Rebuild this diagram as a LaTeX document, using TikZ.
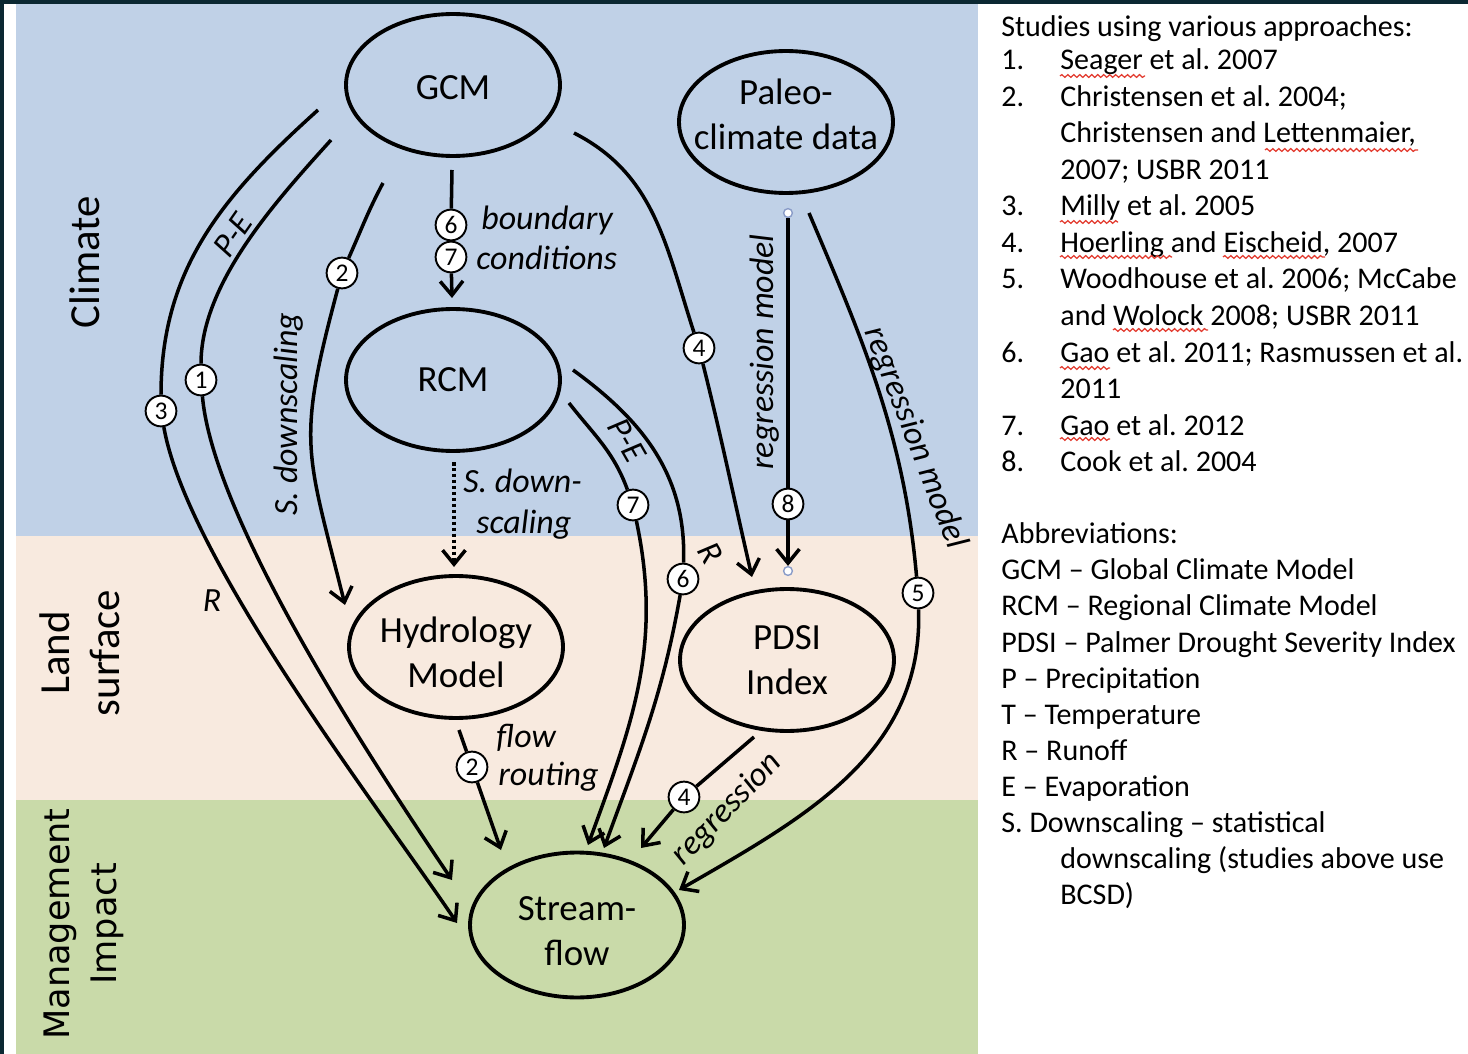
\documentclass[tikz,border=0pt]{standalone}
\usepackage{fontspec}
\setmainfont{Carlito}
\newfontfamily\mgmtfont{DejaVu Sans}
\usetikzlibrary{arrows.meta}
\usetikzlibrary{shapes.geometric}
\usetikzlibrary{decorations.pathmorphing}
\frenchspacing

\definecolor{climateblue}{HTML}{C0D1E7}
\definecolor{landpeach}{HTML}{F8EADF}
\definecolor{mgmtgreen}{HTML}{C9DAA9}
\definecolor{darkframe}{HTML}{0B2832}
\definecolor{handleblue}{HTML}{8A9CC8}
\definecolor{spellred}{HTML}{E23A2E}

\begin{document}
\begin{tikzpicture}[x=0.02cm,y=-0.02cm]
      \tikzset{
        >={Straight Barb[length=8pt,width=13pt]},
        blob/.style={ellipse, draw, line width=2.2pt, minimum width=4.28cm, minimum height=2.84cm, inner sep=0pt},
        num/.style={circle, draw, fill=white, line width=1.1pt, minimum size=17.5pt, inner sep=0pt, font=\fontsize{14.5}{14.5}\selectfont},
        link/.style={line width=2pt},
        lab/.style={font=\fontsize{19.3}{23}\selectfont\itshape, inner sep=0pt},
        zone/.style={font=\fontsize{24.4}{28.3}\selectfont, rotate=90, align=center, inner sep=0pt},
        legend/.style={font=\fontsize{17.1}{20.5}\selectfont, anchor=base west, inner sep=0pt},
        handle/.style={circle, draw=handleblue, fill=white, line width=0.8pt, minimum size=5pt, inner sep=0pt},
        squiggle/.style={draw=spellred, line width=0.7pt, decorate, decoration={snake, amplitude=0.8pt, segment length=3.4pt}},
        every label/.style={font=\fontsize{21}{25.5}\selectfont, align=center, inner sep=0pt},
      }
      \useasboundingbox (0,0) rectangle (1468,1054);

      % bands
      \fill[darkframe] (0,0) rectangle (1468,4);
      \fill[darkframe] (0,0) rectangle (4,1054);
      \fill[climateblue] (16,4) rectangle (978,536);
      \fill[landpeach] (16,536) rectangle (978,800);
      \fill[mgmtgreen] (16,800) rectangle (978,1054);

      \node[zone] (climate) at (85,262) {Climate};
      \node[zone] (land) at (80,653) {Land\\surface};
      \node[zone, font=\mgmtfont\fontsize{20}{27}\selectfont] (mgmt) at (84,924) {Management\\Impact};

      % models
      \node[blob, label={[yshift=-1.4pt]center:GCM}] (gcm) at (453,85) {};
      \node[blob, label={[yshift=4.5pt]center:{Paleo-\\climate data}}] (paleo) at (786,122) {};
      \node[blob, label=center:RCM] (rcm) at (453,380) {};
      \node[blob, label={[yshift=-3pt]center:{Hydrology\\Model}}] (hydro) at (456,647) {};
      \node[blob, label=center:{PDSI\\Index}] (pdsi) at (787,660) {};
      \node[blob, minimum height=2.9cm, label={[yshift=-3.4pt]center:{Stream-\\flow}}] (stream) at (577,925) {};

      % study numbers
      \node[num] (c1) at (201,380) {1};
      \node[num] (c3) at (161,411) {3};
      \node[num] (c2a) at (342,273) {2};
      \node[num] (c6a) at (451,225) {6};
      \node[num] (c7a) at (451,257) {7};
      \node[num] (c4a) at (699,348) {4};
      \node[num] (c8) at (788,504) {8};
      \node[num] (c7b) at (633,505) {7};
      \node[num] (c6b) at (683,579) {6};
      \node[num] (c5) at (918,593) {5};
      \node[num] (c2b) at (472,767) {2};
      \node[num] (c4b) at (684,797) {4};

      \node[handle] (h8top) at (788,213) {};
      \node[handle] (h8bot) at (788,571) {};

      % free ends
      \coordinate (gcm-r) at (318,110);
      \coordinate (gcm-pe) at (331,140);
      \coordinate (gcm-sd) at (383,183);
      \coordinate (gcm-bc) at (452,170);
      \coordinate (rcm-bc) at (452,298);
      \coordinate (gcm-pd) at (574,133);
      \coordinate (pdsi-gcm) at (752,577);
      \coordinate (paleo-rm) at (809,213);
      \coordinate (rcm-pe) at (569,403);
      \coordinate (rcm-r) at (573,370);
      \coordinate (rcm-sd) at (454,462);
      \coordinate (hydro-sd) at (454,567);
      \coordinate (hydro-in) at (345,605);
      \coordinate (hydro-fr) at (459,730);
      \coordinate (pdsi-rg) at (754,737);
      \coordinate (str-r) at (457,923);
      \coordinate (str-pe) at (452,880);
      \coordinate (str-fr) at (501,850);
      \coordinate (str-pe2) at (588,845);
      \coordinate (str-r2) at (604,848);
      \coordinate (str-rg) at (641,848);
      \coordinate (str-rm) at (679,890);

      \draw[link,->] (gcm-r) to[out=222,in=90] (c3) to[out=-80,in=124,looseness=0.6] (str-r);
      \draw[link,->] (gcm-pe) to[out=228,in=90,looseness=0.8] (c1) to[out=-85,in=124,looseness=0.6] (str-pe);
      \draw[link,->] (gcm-sd) to[out=242,in=66] (c2a) to[out=255,in=104,looseness=1.3] (hydro-in);
      \draw[link,->] (gcm-bc) -- (c6a) -- (c7a) -- (rcm-bc);
      \draw[link,->] (gcm-pd) to[out=-27,in=108] (c4a) to[out=-76,in=103] (pdsi-gcm);
      \draw[link,->] (h8top) -- (c8) -- (h8bot);
      \draw[link,->] (paleo-rm) to[out=-67,in=95,looseness=0.95] (c5) to[out=-88,in=30] (str-rm);
      \draw[link,->] (rcm-pe) to[out=-52,in=110] (c7b) to[out=-78,in=70] (str-pe2);
      \draw[link,->] (rcm-r) to[out=-36,in=88] (c6b) to[out=-100,in=70] (str-r2);
      \draw[link,->,dash pattern=on 2pt off 1.4pt] (rcm-sd) -- (hydro-sd);
      \draw[link,->] (hydro-fr) -- (c2b) -- (str-fr);
      \draw[link,->] (pdsi-rg) -- (c4b) -- (str-rg);

      % connector labels
      \node[lab, rotate=55] (pe1) at (233,235) {P-E};
      \node[lab, rotate=90] (sdown) at (289,414) {S. downscaling};
      \node[lab] (r1) at (212,601) {R};
      \node[lab, anchor=base west] (bound) at (481,230) {boundary};
      \node[lab, anchor=base west] (cond) at (476,270) {conditions};
      \node[lab, rotate=90] (regm8) at (765,352) {regression model};
      \node[lab, rotate=-69] (regm5) at (915,438) {regression model};
      \node[lab, rotate=-60] (pe2) at (627,440) {P-E};
      \node[lab, rotate=-60] (r2) at (711,553) {R};
      \node[lab, anchor=base west] (sd1) at (463,492) {S. down-};
      \node[lab, anchor=base west] (sd2) at (476,533) {scaling};
      \node[lab, anchor=base west] (flow) at (496,747) {flow};
      \node[lab, anchor=base west] (rout) at (498,785) {routing};
      \node[lab, rotate=46] (regr) at (727,809) {regression};

      % legend
      \node[legend] (studies) at (1001,37) {Studies using various approaches:};
      \foreach \yy/\nm/\tx in {70/1./Seager et al. 2007, 106.5/2./Christensen et al. 2004;,
          143//{Christensen and Lettenmaier,}, 179.5//2007; USBR 2011, 216/3./Milly et al. 2005,
          252.5/4./{Hoerling and Eischeid, 2007}, 289/5./Woodhouse et al. 2006; McCabe,
          325.5//and Wolock 2008; USBR 2011, 362/6./Gao et al. 2011; Rasmussen et al.,
          398.5//2011, 435/7./Gao et al. 2012, 471.5/8./Cook et al. 2004}
      {
        \node[legend] (num\yy) at (1001,\yy) {\nm};
        \node[legend] (item\yy) at (1060,\yy) {\tx};
      }
      \foreach \yy/\xx/\tx in {543/1001/Abbreviations:, 579/1001/GCM – Global Climate Model,
          615/1001/RCM – Regional Climate Model, 652/1001/PDSI – Palmer Drought Severity Index,
          688/1001/P – Precipitation, 724/1001/T – Temperature, 760/1001/R – Runoff,
          796/1001/E – Evaporation, 832/1001/S. Downscaling – statistical,
          868/1060/downscaling (studies above use, 904/1060/BCSD)}
        \node[legend] (abbr\yy) at (\xx,\yy) {\tx};

      \foreach \xa/\xb/\yy in {1060/1145/76, 1265/1418/150, 1060/1118/222, 1060/1172/257,
          1223/1325/257, 1113/1208/330, 1060/1110/368, 1060/1110/439}
        \draw[squiggle] (\xa,\yy) -- (\xb,\yy);
    \end{tikzpicture}
\end{document}
